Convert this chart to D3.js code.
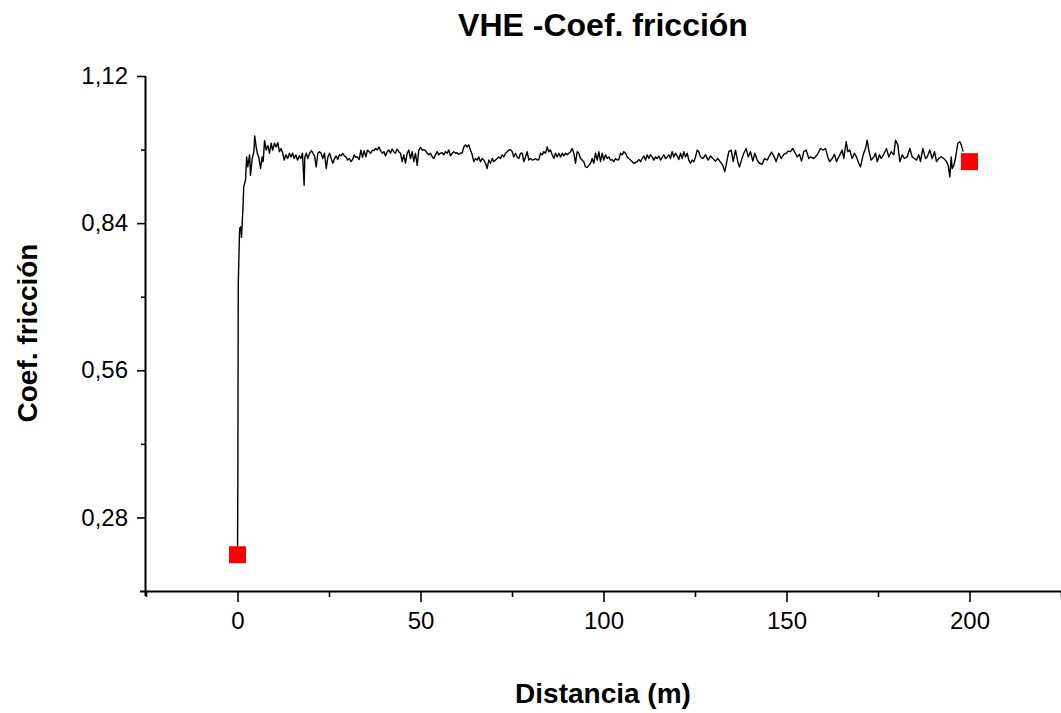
<!DOCTYPE html>
<html>
<head>
<meta charset="utf-8">
<script src="https://cdn.jsdelivr.net/npm/d3@7"></script>
<style>
  html, body { margin: 0; padding: 0; background: #ffffff; }
  svg { display: block; }
  text { font-family: "Liberation Sans", Arial, sans-serif; fill: #000; }
</style>
</head>
<body>
<svg id="chart" width="1061" height="713"></svg>
<script>
// ---------- data ----------
const chartTitle = "VHE -Coef. fricción";
const xTitle = "Distancia (m)";
const yTitle = "Coef. fricción";

const xDomain = [-25, 225];
const yDomain = [0.14, 1.12];

const xMajorTicks = [0, 50, 100, 150, 200];
const xMinorTicks = [-25, 25, 75, 125, 175, 225];
const yMajorTicks = [0.28, 0.56, 0.84, 1.12];
const yMajorLabels = ["0,28", "0,56", "0,84", "1,12"];
const yMinorTicks = [0.42, 0.70, 0.98];

// red square markers [distance, coef]
const markers = [[0, 0.209], [200, 0.957]];

// friction trace [distance (m), coefficient]
const frictionTrace = [
[0,0.209],[0.1,0.35],[0.2,0.72],[0.3,0.75],[0.5,0.808],[0.6,0.830],[0.9,0.833],[1.1,0.813],[1.5,0.870],[1.7,0.909],
[2.2,0.922],[2.5,0.966],[2.8,0.947],[3.3,0.970],[3.55,0.931],[4.0,0.962],[4.5,0.977],[4.7,1.006],[5.1,0.985],[5.4,0.973],
[5.8,0.966],[6.3,0.944],[6.75,0.966],[7.0,0.957],[7.4,0.997],[7.85,0.979],[8.3,0.988],[8.75,0.973],[9.2,0.992],[9.6,0.979],
[10.1,0.992],[10.55,0.985],[11.0,0.993],[11.45,0.976],[11.9,0.982],[12.35,0.973],[12.8,0.960],[13.25,0.970],[13.7,0.963],[14.2,0.973],
[14.6,0.966],[15.05,0.973],[15.5,0.963],[15.95,0.970],[16.4,0.960],[16.9,0.968],[17.3,0.963],[17.75,0.973],[18.2,0.912],[18.4,0.966],
[18.8,0.973],[19.2,0.963],[19.7,0.973],[20.2,0.978],[20.6,0.973],[21.05,0.968],[21.5,0.947],[21.95,0.973],[22.4,0.976],[22.85,0.973],
[23.3,0.963],[23.75,0.973],[24.25,0.944],[24.7,0.966],[25.15,0.973],[25.6,0.963],[26.05,0.954],[26.5,0.963],[26.95,0.968],[27.4,0.961],
[27.85,0.970],[28.3,0.968],[28.75,0.973],[29.2,0.968],[29.65,0.966],[30.1,0.960],[30.55,0.963],[31.0,0.957],[31.45,0.961],[31.9,0.970],
[32.35,0.965],[32.8,0.966],[33.25,0.961],[33.7,0.979],[34.15,0.965],[34.6,0.978],[35.05,0.966],[35.5,0.979],[35.95,0.976],[36.4,0.973],
[36.85,0.979],[37.3,0.978],[37.75,0.982],[38.2,0.979],[38.65,0.985],[39.1,0.978],[39.55,0.973],[40.0,0.976],[40.45,0.968],[40.9,0.976],
[41.35,0.979],[41.8,0.973],[42.25,0.981],[42.7,0.976],[43.15,0.973],[43.6,0.981],[44.05,0.976],
[44.54,0.973],[45.0,0.957],[45.44,0.970],[45.9,0.954],[46.37,0.973],[46.8,0.979],[47.27,0.963],[47.73,0.976],[48.17,0.957],[48.63,0.973],
[49.1,0.950],[49.54,0.979],[50.0,0.984],[50.46,0.979],[50.9,0.980],[51.37,0.978],[51.83,0.973],[52.27,0.970],[52.73,0.973],[53.2,0.966],
[53.63,0.963],[54.1,0.970],[54.56,0.976],[55.0,0.970],[55.46,0.973],[55.93,0.974],[56.37,0.970],[56.83,0.976],[57.3,0.973],[57.73,0.979],
[58.2,0.968],[58.66,0.973],[59.1,0.976],[59.56,0.973],[60.03,0.974],[60.46,0.971],[60.93,0.973],[61.4,0.974],[61.83,0.985],[62.3,0.989],
[62.76,0.985],[63.2,0.989],[63.66,0.979],[64.13,0.970],[64.56,0.957],[65.03,0.963],[65.5,0.960],[65.93,0.966],[66.4,0.957],[66.86,0.963],
[67.3,0.960],[67.76,0.954],[68.22,0.944],[68.66,0.960],[69.13,0.954],[69.6,0.963],[70.03,0.957],[70.5,0.960],[70.96,0.963],[71.4,0.966],
[71.86,0.963],[72.32,0.970],[72.76,0.966],[73.22,0.973],[73.69,0.976],[74.13,0.979],[74.6,0.980],[75.05,0.976],[75.49,0.966],[75.96,0.973],
[76.42,0.966],[76.86,0.963],[77.32,0.973],[77.79,0.973],[78.22,0.957],[78.69,0.966],[79.15,0.976],[79.59,0.960],[80.05,0.963],[80.52,0.960],
[80.96,0.961],[81.42,0.963],[81.89,0.960],[82.32,0.961],[82.79,0.973],[83.25,0.970],[83.69,0.976],[84.15,0.973],[84.62,0.985],[85.05,0.976],
[85.52,0.979],[85.98,0.970],[86.42,0.963],[86.89,0.973],[87.35,0.966],[87.79,0.973],[88.25,0.966],[88.72,0.973],[89.15,0.968],[89.62,0.973],
[90.08,0.970],[90.52,0.973],[90.98,0.976],[91.45,0.982],[91.89,0.973],[92.35,0.954],[92.81,0.976],[93.25,0.973],[93.72,0.963],[94.18,0.960],
[94.62,0.957],[95.08,0.947],[95.55,0.946],[95.98,0.950],[96.45,0.954],[96.91,0.963],[97.35,0.954],[97.81,0.973],[98.28,0.960],[98.72,0.976],
[99.18,0.957],[99.64,0.973],[100.08,0.960],[100.55,0.970],[101.01,0.963],[101.45,0.966],[101.91,0.960],[102.38,0.961],[102.81,0.957],[103.28,0.963],
[103.74,0.960],[104.18,0.961],[104.64,0.973],[105.11,0.970],[105.55,0.976],[106.01,0.973],[106.48,0.966],[106.91,0.963],[107.38,0.960],[107.84,0.957],
[108.28,0.954],[108.74,0.955],[109.21,0.957],[109.64,0.961],[110.11,0.957],[110.57,0.963],[111.01,0.968],[111.48,0.960],[111.94,0.970],[112.38,0.963],
[112.84,0.970],[113.31,0.966],[113.74,0.960],[114.21,0.966],[114.67,0.963],[115.11,0.968],[115.57,0.960],[116.04,0.965],[116.48,0.970],[116.94,0.963],
[117.4,0.966],[117.84,0.970],[118.31,0.963],[118.77,0.976],[119.21,0.966],[119.67,0.973],[120.14,0.968],[120.57,0.961],[121.04,0.973],[121.5,0.963],
[121.94,0.976],[122.4,0.966],[122.87,0.973],[123.31,0.960],[123.77,0.954],[124.23,0.960],[124.67,0.957],[125.14,0.966],[125.6,0.979],[126.04,0.976],
[126.5,0.966],[127.13,0.963],[127.87,0.970],[128.61,0.960],[129.23,0.968],[129.86,0.963],[130.6,0.958],[131.23,0.963],[131.97,0.956],[132.6,0.950],
[133.14,0.938],[133.6,0.954],[134.23,0.976],[134.89,0.979],[135.44,0.957],[136.07,0.979],[136.69,0.957],[137.16,0.947],[137.7,0.960],[138.33,0.973],
[138.99,0.982],[139.54,0.966],[140.16,0.976],[140.79,0.958],[141.34,0.973],[142.0,0.960],[142.62,0.954],[143.36,0.952],[143.99,0.963],[144.73,0.960],
[145.36,0.968],[145.9,0.975],[146.53,0.968],[147.19,0.957],[147.9,0.973],[148.55,0.963],[149.26,0.971],[149.92,0.973],[150.46,0.977],[151.09,0.976],
[151.72,0.982],[152.27,0.975],[152.92,0.966],[153.55,0.971],[154.1,0.958],[154.73,0.976],[155.38,0.979],[156.09,0.963],
[156.56,0.966],[157.46,0.963],[158.39,0.970],[159.29,0.982],[160.03,0.979],[160.66,0.982],[161.28,0.966],[161.83,0.957],[162.49,0.963],[163.11,0.971],
[163.66,0.957],[164.29,0.966],[165.22,0.979],[165.66,0.963],[166.31,0.995],[166.75,0.976],[167.3,0.979],[167.95,0.963],[168.58,0.973],[169.13,0.966],
[169.75,0.954],[170.22,0.947],[170.96,0.970],[171.58,0.982],[172.05,0.998],[172.49,0.979],[173.14,0.960],[173.85,0.966],[174.32,0.973],[174.78,0.957],
[175.41,0.970],[175.87,0.963],[176.58,0.971],[177.32,0.982],[177.95,0.966],[178.61,0.976],[179.32,0.970],[179.78,0.998],[180.41,0.989],[180.96,0.957],
[181.61,0.970],[182.24,0.963],[182.98,0.966],[183.69,0.982],[184.34,0.966],[184.97,0.963],[185.52,0.960],[186.15,0.970],[186.61,0.957],[187.24,0.982],
[187.98,0.963],[188.44,0.966],[189.15,0.979],[189.81,0.963],[190.44,0.976],[190.98,0.957],[191.61,0.963],[192.27,0.966],[192.98,0.963],[193.72,0.957],
[194.18,0.950],[194.62,0.928],[195.0,0.966],[195.27,0.944],[195.71,0.950],[196.17,0.963],[196.8,0.992],[197.35,0.995],[197.73,0.989],[198.28,0.976]
];

// ---------- drawing ----------
const svg = d3.select("#chart");
const plot = { left: 146, right: 1061, top: 76, bottom: 591 };

const x = d3.scaleLinear().domain(xDomain).range([plot.left, plot.right]);
const y = d3.scaleLinear().domain(yDomain).range([plot.bottom, plot.top]);

// title
svg.append("text")
  .attr("x", 603).attr("y", 36)
  .attr("text-anchor", "middle")
  .style("font-size", "32px").style("font-weight", "bold")
  .text(chartTitle);

// x axis (major)
const gx = svg.append("g").attr("transform", `translate(0,${plot.bottom})`);
gx.call(d3.axisBottom(x).tickValues(xMajorTicks).tickSize(11).tickSizeOuter(0).tickPadding(10)
  .tickFormat(d3.format("d")));
// x axis (minor)
const gxm = svg.append("g").attr("transform", `translate(0,${plot.bottom})`);
gxm.call(d3.axisBottom(x).tickValues(xMinorTicks).tickSize(6).tickSizeOuter(0).tickFormat(""));
gxm.select(".domain").remove();

// y axis (major)
const gy = svg.append("g").attr("transform", `translate(${plot.left},0)`);
gy.call(d3.axisLeft(y).tickValues(yMajorTicks).tickSize(9).tickSizeOuter(0).tickPadding(9)
  .tickFormat((d, i) => yMajorLabels[i]));
// y axis (minor)
const gym = svg.append("g").attr("transform", `translate(${plot.left},0)`);
gym.call(d3.axisLeft(y).tickValues(yMinorTicks).tickSize(5).tickSizeOuter(0).tickFormat(""));
gym.select(".domain").remove();

svg.selectAll(".domain").attr("stroke", "#000").attr("stroke-width", 2);
svg.selectAll(".tick line").attr("stroke", "#000").attr("stroke-width", 1.6);
svg.selectAll(".tick text")
  .style("font-family", '"Liberation Sans", Arial, sans-serif')
  .style("font-size", "24px").attr("fill", "#000");

// extend axis lines slightly past the corner, like the original
gx.select(".domain").attr("d", `M${plot.left - 6},0.5H${plot.right}`);
gy.select(".domain").attr("d", `M-0.5,${plot.top}V${plot.bottom + 5}`);

// axis titles
svg.append("text")
  .attr("x", 603).attr("y", 703)
  .attr("text-anchor", "middle")
  .style("font-size", "28px").style("font-weight", "bold")
  .text(xTitle);

svg.append("text")
  .attr("transform", `translate(37,333) rotate(-90)`)
  .attr("text-anchor", "middle")
  .style("font-size", "28px").style("font-weight", "bold")
  .text(yTitle);

// friction line
const line = d3.line().x(d => x(d[0])).y(d => y(d[1]));
svg.append("path")
  .datum(frictionTrace)
  .attr("fill", "none")
  .attr("stroke", "#000")
  .attr("stroke-width", 1.4)
  .attr("stroke-linejoin", "round")
  .attr("d", line);

// markers
const sq = 17;
svg.selectAll("rect.marker")
  .data(markers)
  .enter().append("rect")
  .attr("class", "marker")
  .attr("x", d => x(d[0]) - sq / 2)
  .attr("y", d => y(d[1]) - sq / 2)
  .attr("width", sq).attr("height", sq)
  .attr("fill", "#ff0000");
</script>
</body>
</html>
